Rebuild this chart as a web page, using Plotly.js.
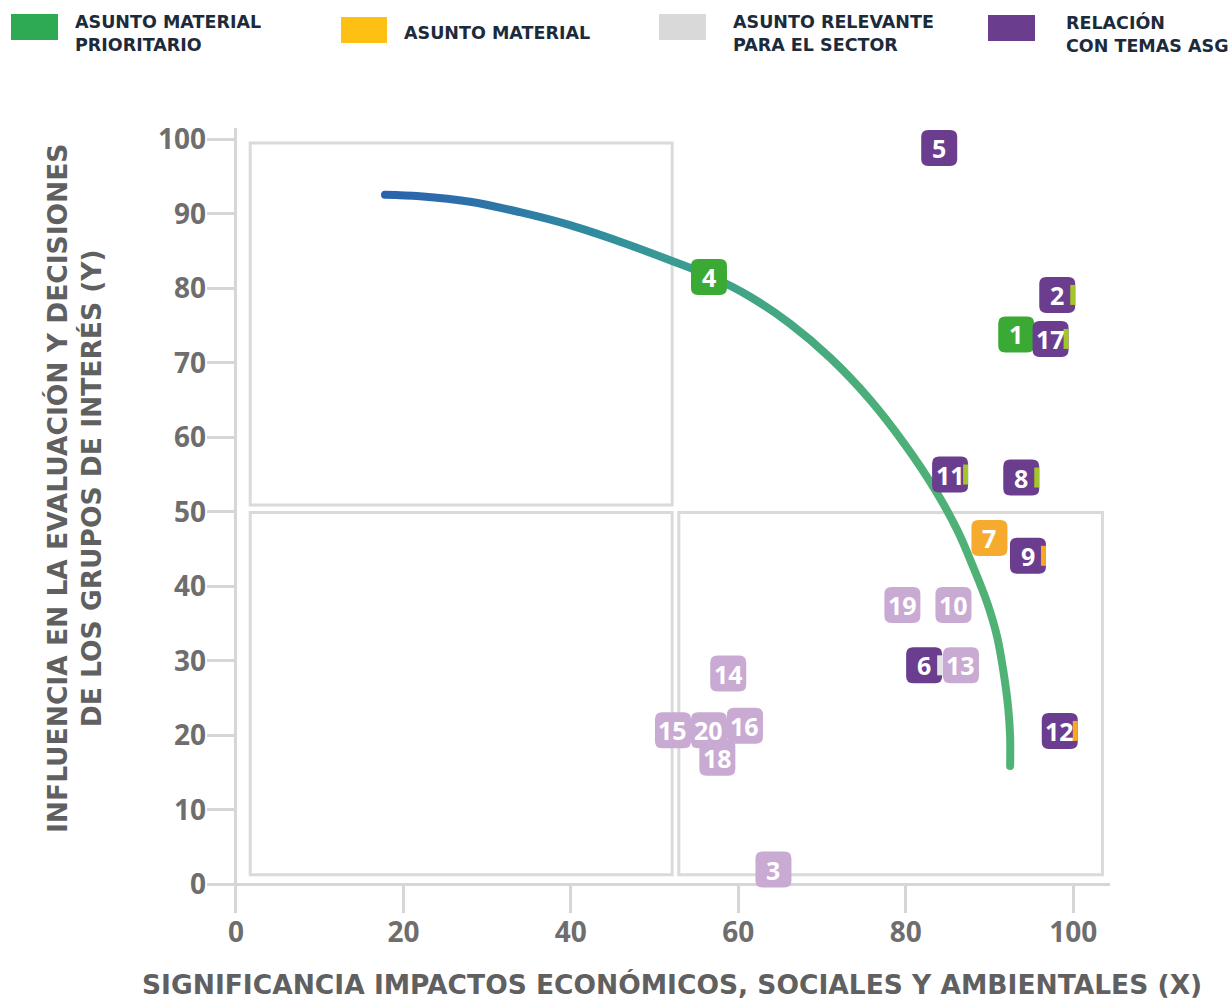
<!DOCTYPE html>
<html>
<head>
<meta charset="utf-8">
<script src="https://cdn.plot.ly/plotly-3.0.1.min.js"></script>
<style>
  html, body { margin: 0; padding: 0; background: #ffffff; }
  #chart { width: 1228px; height: 1003px; }
</style>
</head>
<body>
<div id="chart"></div>
<script>
// ---------- DATA ----------
const issueIds = ['1','2','3','4','5','6','7','8','9','10','11','12','13','14','15','16','17','18','19','20'];
const issueX   = [93.2, 98.1, 64.2, 56.5, 84.0, 82.2, 90.0, 93.8, 94.6, 85.7, 85.3, 98.4, 86.6, 58.8, 52.2, 60.8, 97.3, 57.5, 79.6, 56.5];
const issueY   = [73.8, 79.1,  2.0, 81.5, 98.8, 29.4, 46.5, 54.6, 44.1, 37.5, 55.0, 20.6, 29.4, 28.3, 20.7, 21.3, 73.2, 17.0, 37.5, 20.7];
const issueCat = ['prioritario','asg','relevante','prioritario','asg','asg','material','asg','asg','relevante',
                  'asg','asg','relevante','relevante','relevante','relevante','asg','relevante','relevante','relevante'];
const issueTag = ['', 'verde', '', '', '', 'gris', '', 'verde', 'naranja', '',
                  'verde', 'naranja', '', '', '', '', 'verde', '', '', ''];

const curveX = [17.80, 21.98, 27.96, 33.93, 39.90, 45.88, 51.85, 56.51, 61.41, 66.19, 70.97, 75.75, 79.93, 83.51, 86.14, 88.05, 89.73, 90.92, 91.64, 92.23, 92.47, 92.47];
const curveY = [92.55, 92.35, 91.61, 90.20, 88.46, 86.24, 83.76, 81.68, 78.86, 75.23, 70.67, 65.03, 58.99, 52.95, 47.58, 42.62, 37.79, 33.22, 28.79, 23.83, 19.80, 15.91];

const xTicks = [0, 20, 40, 60, 80, 100];
const yTicks = [0, 10, 20, 30, 40, 50, 60, 70, 80, 90, 100];

const legendLabels = ['ASUNTO MATERIAL<br>PRIORITARIO', 'ASUNTO MATERIAL', 'ASUNTO RELEVANTE<br>PARA EL SECTOR', 'RELACIÓN<br>CON TEMAS ASG'];
const xTitle = 'SIGNIFICANCIA IMPACTOS ECONÓMICOS, SOCIALES Y AMBIENTALES (X)';
const yTitle = 'INFLUENCIA EN LA EVALUACIÓN Y DECISIONES<br>DE LOS GRUPOS DE INTERÉS (Y)';

// ---------- STYLE ----------
const FONT = 'Open Sans, Lato, sans-serif';
const WIDE = 'DejaVu Sans, Open Sans, sans-serif';
const catColor = { prioritario: '#3aaa35', material: '#f7ab2e', relevante: '#c9aad3', asg: '#6a3d8f' };
const tagColor = { verde: '#a3c72a', naranja: '#f9a825', gris: '#e4e4e4' };
const legendColors = ['#2eaa52', '#fdc013', '#d9d9d9', '#6a3d8f'];
const legendBoxPx = [[11, 58, 14, 40], [341, 387, 17, 43], [659, 706, 14, 40], [988, 1035, 15, 41]];
const legendTextPx = [[73, 33], [402, 33], [731, 33], [1064, 34]];

// plot area in pixels
const PL = 207, PR = 1110, PT = 128, PB = 913;
const pxX = p => (p - PL) / (PR - PL);
const pxY = p => (PB - p) / (PB - PT);

// ---------- CURVE ----------
const traces = [{
  type: 'scatter', mode: 'lines',
  x: curveX, y: curveY,
  line: { color: '#4cae7a', width: 8, shape: 'spline', smoothing: 1 },
  hoverinfo: 'skip', showlegend: false
}];

// ---------- SHAPES ----------
const shapes = [];
const frameLine = { color: '#dadada', width: 3 };
shapes.push({ type: 'rect', xref: 'x', yref: 'y', x0: 1.7, x1: 52.1, y0: 50.9, y1: 99.5, line: frameLine, layer: 'below' });
shapes.push({ type: 'rect', xref: 'x', yref: 'y', x0: 1.7, x1: 52.1, y0: 1.3, y1: 49.9, line: frameLine, layer: 'below' });
shapes.push({ type: 'rect', xref: 'x', yref: 'y', x0: 52.9, x1: 103.5, y0: 1.3, y1: 49.9, line: frameLine, layer: 'below' });

const H = 18, R = 7;
const roundPath = `M ${-H + R},${-H} L ${H - R},${-H} Q ${H},${-H} ${H},${-H + R} L ${H},${H - R} Q ${H},${H} ${H - R},${H} ` +
                  `L ${-H + R},${H} Q ${-H},${H} ${-H},${H - R} L ${-H},${-H + R} Q ${-H},${-H} ${-H + R},${-H} Z`;
const barPath = `M ${H - 5},-10 L ${H},-10 L ${H},10 L ${H - 5},10 Z`;

const annotations = [];
for (let i = 0; i < issueIds.length; i++) {
  shapes.push({
    type: 'path', xref: 'x', yref: 'y',
    xsizemode: 'pixel', ysizemode: 'pixel',
    xanchor: issueX[i], yanchor: issueY[i],
    path: roundPath, fillcolor: catColor[issueCat[i]],
    line: { width: 0 }, layer: 'above'
  });
  if (issueTag[i]) {
    shapes.push({
      type: 'path', xref: 'x', yref: 'y',
      xsizemode: 'pixel', ysizemode: 'pixel',
      xanchor: issueX[i], yanchor: issueY[i],
      path: barPath, fillcolor: tagColor[issueTag[i]],
      line: { width: 0 }, layer: 'above'
    });
  }
  annotations.push({
    x: issueX[i], y: issueY[i], xref: 'x', yref: 'y',
    text: issueIds[i], showarrow: false,
    xanchor: 'center', yanchor: 'middle',
    font: { family: FONT, size: 25, color: '#ffffff', weight: 700 }
  });
}

for (let i = 0; i < legendLabels.length; i++) {
  const b = legendBoxPx[i];
  shapes.push({
    type: 'rect', xref: 'paper', yref: 'paper',
    x0: pxX(b[0]), x1: pxX(b[1]), y0: pxY(b[3]), y1: pxY(b[2]),
    fillcolor: legendColors[i], line: { width: 0 }, layer: 'above'
  });
  const t = legendTextPx[i];
  annotations.push({
    xref: 'paper', yref: 'paper', x: pxX(t[0]), y: pxY(t[1]),
    xanchor: 'left', yanchor: 'middle', align: 'left',
    text: legendLabels[i], showarrow: false,
    font: { family: WIDE, size: 17.5, color: '#1c2b3b', weight: 700 }
  });
}

annotations.push({
  xref: 'paper', yref: 'paper', x: pxX(672), y: pxY(1002),
  xanchor: 'center', yanchor: 'bottom', text: xTitle, showarrow: false,
  font: { family: WIDE, size: 26.5, color: '#606060', weight: 700 }
});
annotations.push({
  xref: 'paper', yref: 'paper', x: pxX(74), y: pxY(489),
  xanchor: 'center', yanchor: 'middle', text: yTitle, showarrow: false, textangle: -90,
  font: { family: WIDE, size: 26.5, color: '#606060', weight: 700 }
});

const axisCommon = {
  ticks: 'inside', ticklen: 28, tickwidth: 3, tickcolor: '#d6d6d6',
  showgrid: false, showline: false,
  zeroline: true, zerolinecolor: '#d6d6d6', zerolinewidth: 3,
  tickfont: { family: FONT, size: 28, color: '#6e6e6e', weight: 700 },
  fixedrange: true
};

const layout = {
  width: 1228, height: 1003,
  margin: { l: PL, r: 1228 - PR, t: PT, b: 1003 - PB, pad: 0 },
  paper_bgcolor: '#ffffff', plot_bgcolor: '#ffffff',
  showlegend: false,
  xaxis: Object.assign({}, axisCommon, { range: [-3.46, 104.4], tickmode: 'array', tickvals: xTicks, ticktext: xTicks.map(String) }),
  yaxis: Object.assign({}, axisCommon, { range: [-3.83, 101.5], tickmode: 'array', tickvals: yTicks, ticktext: yTicks.map(String) }),
  shapes: shapes,
  annotations: annotations
};

// gradient stroke for the curve (applied to the line Plotly draws)
const gradStops = [[0, '#2b62ad'], [0.15, '#2d72a9'], [0.3, '#2f88a1'], [0.45, '#389a93'], [0.6, '#42a684'], [0.8, '#4caf78'], [1, '#50b274']];

Plotly.newPlot('chart', traces, layout, { displayModeBar: false, staticPlot: true }).then(gd => {
  const ns = 'http://www.w3.org/2000/svg';
  const svg = gd.querySelector('svg.main-svg');
  let defs = svg.querySelector('defs');
  if (!defs) { defs = document.createElementNS(ns, 'defs'); svg.insertBefore(defs, svg.firstChild); }
  const lg = document.createElementNS(ns, 'linearGradient');
  lg.setAttribute('id', 'curveGrad');
  lg.setAttribute('x1', '0'); lg.setAttribute('y1', '0');
  lg.setAttribute('x2', '1'); lg.setAttribute('y2', '0');
  gradStops.forEach(([o, c]) => {
    const s = document.createElementNS(ns, 'stop');
    s.setAttribute('offset', o);
    s.setAttribute('stop-color', c);
    lg.appendChild(s);
  });
  defs.appendChild(lg);
  const path = gd.querySelector('.scatterlayer .trace path.js-line');
  if (path) {
    path.style.stroke = 'url(#curveGrad)';
    path.style.strokeLinecap = 'round';
  }
});
</script>
</body>
</html>
